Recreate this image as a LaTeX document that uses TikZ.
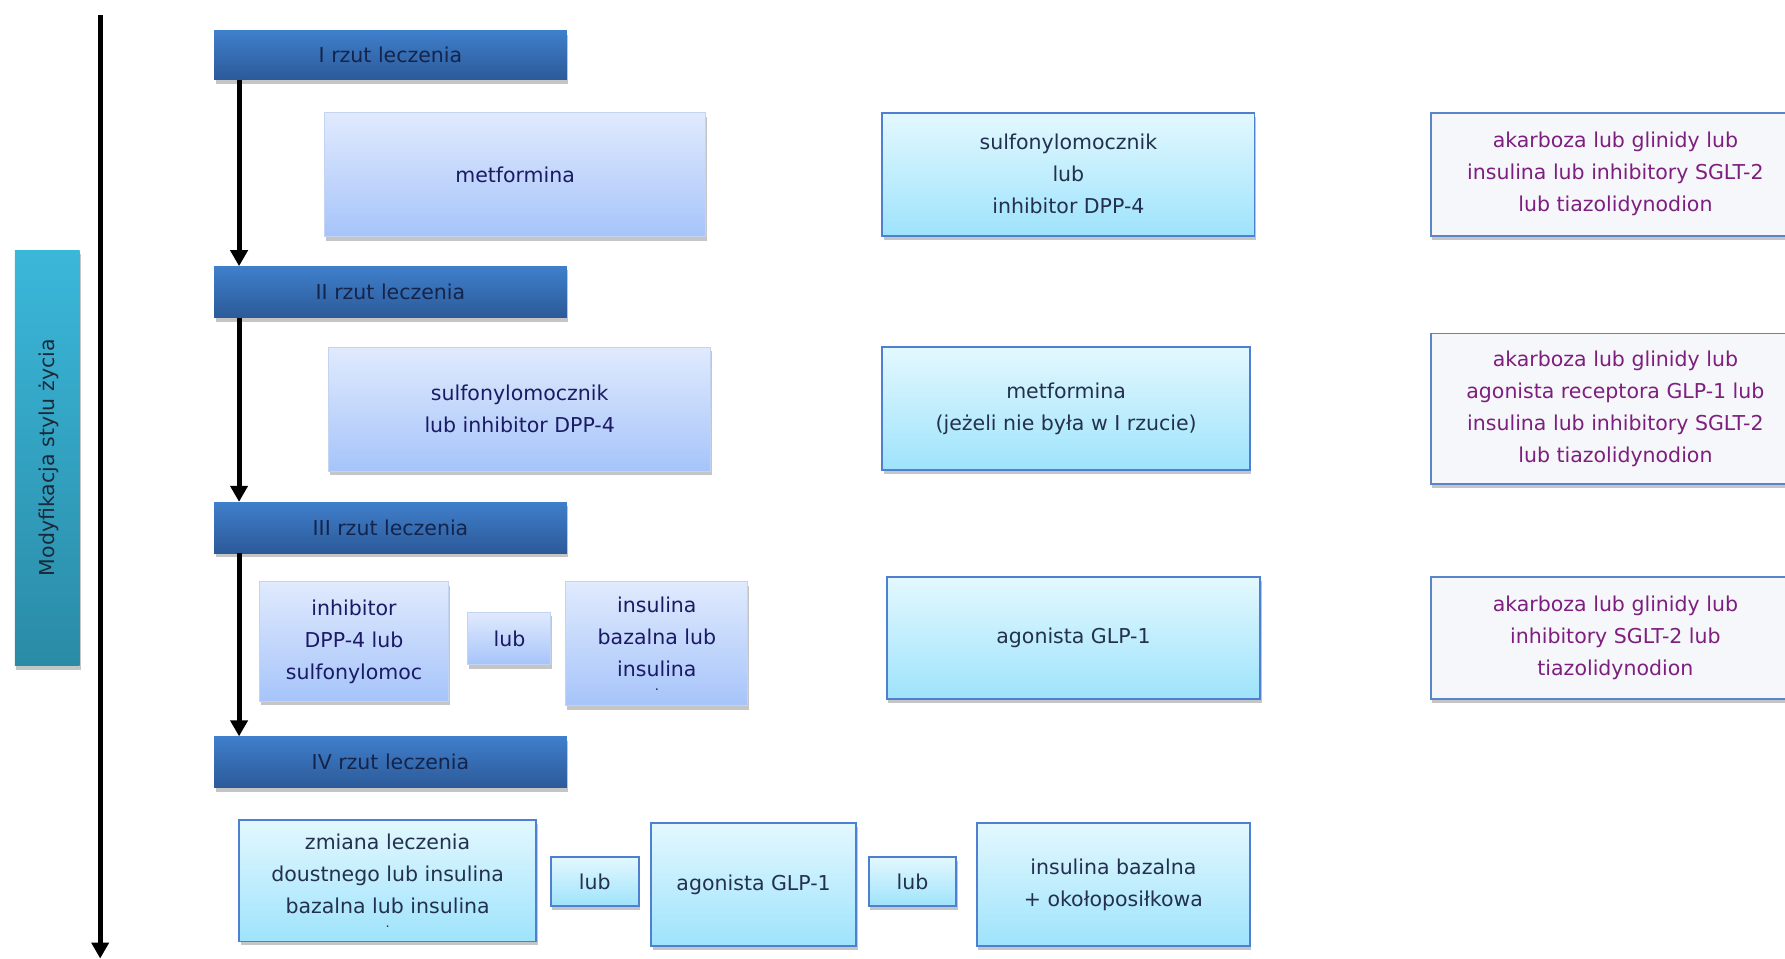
\documentclass[tikz,border=0pt]{standalone}
\usepackage{fontspec}
\setmainfont{DejaVu Sans}
\usetikzlibrary{arrows.meta,shadows}

\definecolor{hdtop}{HTML}{3F7FCB}
\definecolor{hdbot}{HTML}{2C5A99}
\definecolor{hdtext}{HTML}{14244A}
\definecolor{lvtop}{HTML}{E0EAFD}
\definecolor{lvbot}{HTML}{A6C4FA}
\definecolor{lvline}{HTML}{C3D3F2}
\definecolor{lvtext}{HTML}{1A1A66}
\definecolor{cytop}{HTML}{E3F8FE}
\definecolor{cybot}{HTML}{9EE3FC}
\definecolor{cyline}{HTML}{4E7FD0}
\definecolor{cytext}{HTML}{23304E}
\definecolor{rtfill}{HTML}{F6F7FB}
\definecolor{rtline}{HTML}{5A85C8}
\definecolor{rttext}{HTML}{7E1E7E}
\definecolor{sdtop}{HTML}{3BB7DA}
\definecolor{sdbot}{HTML}{2A8BA6}
\definecolor{sdtext}{HTML}{1A2A3A}

% box by its corners: name, x1, y1, x2, y2, style, text
\newcommand\bx[7]{%
  \node[#6, minimum width={(#4-#2)*1.1384pt}, minimum height={(#5-#3)*1.1384pt}]
    (#1) at ({(#2+#4)/2},{(#3+#5)/2}) {#7};}
\newcommand\dotline{\\[-18pt]{\fontsize{13}{13}\selectfont .}}

\begin{document}
\begin{tikzpicture}[x=1.1384pt,y=-1.1384pt,
  base/.style={rectangle, inner sep=0pt, align=center,
    font=\fontsize{20.5}{32}\selectfont,
    drop shadow={shadow xshift=1.5pt, shadow yshift=-4pt, fill=black!45}},
  hdrbox/.style={base, top color=hdtop, bottom color=hdbot, text=hdtext},
  lavbox/.style={base, top color=lvtop, bottom color=lvbot, draw=lvline, line width=1pt, text=lvtext},
  cybox/.style={base, top color=cytop, bottom color=cybot, draw=cyline, line width=1.8pt, text=cytext},
  altbox/.style={base, fill=rtfill, draw=rtline, line width=1.8pt, text=rttext},
  sidebox/.style={base, top color=sdtop, bottom color=sdbot},
  flow/.style={line width=5pt, -{Triangle[width=17pt,length=16pt]}}]

\useasboundingbox (0,0) rectangle (1568,842);
\clip (0,0) rectangle (1568,842);

% lifestyle bar and the long time axis
\bx{side}{13}{220}{70}{585}{sidebox}{}
\node[rotate=90, font=\fontsize{20.5}{24}\selectfont, text=sdtext] (sidetext) at (43,402) {Modyfikacja stylu życia};
\coordinate (ltop) at (88,13);
\coordinate (lbot) at (88,842);
\draw[flow] (ltop) -- (lbot);

% treatment lines
\bx{h1}{188}{27}{498}{70}{hdrbox}{I rzut leczenia}
\bx{h2}{188}{234}{498}{279}{hdrbox}{II rzut leczenia}
\bx{h3}{188}{441}{498}{486}{hdrbox}{III rzut leczenia}
\bx{h4}{188}{647}{498}{692}{hdrbox}{IV rzut leczenia}

\coordinate (ax) at (210,0);
\draw[flow] (h1.south -| ax) -- (h2.north -| ax);
\draw[flow] (h2.south -| ax) -- (h3.north -| ax);
\draw[flow] (h3.south -| ax) -- (h4.north -| ax);

% line I
\bx{a1}{285}{99}{620}{208}{lavbox}{metformina}
\bx{b1}{775}{99}{1102}{207}{cybox}{sulfonylomocznik\\lub\\inhibitor DPP-4}
\bx{c1}{1257}{99}{1581}{207}{altbox}{akarboza lub glinidy lub\\insulina lub inhibitory SGLT-2\\lub tiazolidynodion}

% line II
\bx{a2}{289}{305}{624}{414}{lavbox}{sulfonylomocznik\\lub inhibitor DPP-4}
\bx{b2}{775}{305}{1098}{413}{cybox}{metformina\\(jeżeli nie była w I rzucie)}
\bx{c2}{1257}{293}{1581}{425}{altbox}{akarboza lub glinidy lub\\agonista receptora GLP-1 lub\\insulina lub inhibitory SGLT-2\\lub tiazolidynodion}

% line III
\bx{a3}{228}{511}{394}{616}{lavbox}{inhibitor\\DPP-4 lub\\sulfonylomoc}
\bx{o3}{411}{538}{484}{584}{lavbox}{lub}
\bx{d3}{497}{511}{657}{620}{lavbox}{insulina\\bazalna lub\\insulina\dotline}
\bx{b3}{779}{507}{1107}{614}{cybox}{agonista GLP-1}
\bx{c3}{1257}{507}{1581}{614}{altbox}{akarboza lub glinidy lub\\inhibitory SGLT-2 lub\\tiazolidynodion}

% line IV
\bx{a4}{210}{720}{471}{827}{cybox}{zmiana leczenia\\doustnego lub insulina\\bazalna lub insulina\dotline}
\bx{o4}{484}{753}{561}{796}{cybox}{lub}
\bx{b4}{572}{723}{752}{831}{cybox}{agonista GLP-1}
\bx{p4}{763}{753}{840}{796}{cybox}{lub}
\bx{d4}{858}{723}{1098}{831}{cybox}{insulina bazalna\\+ okołoposiłkowa}

\end{tikzpicture}
\end{document}
